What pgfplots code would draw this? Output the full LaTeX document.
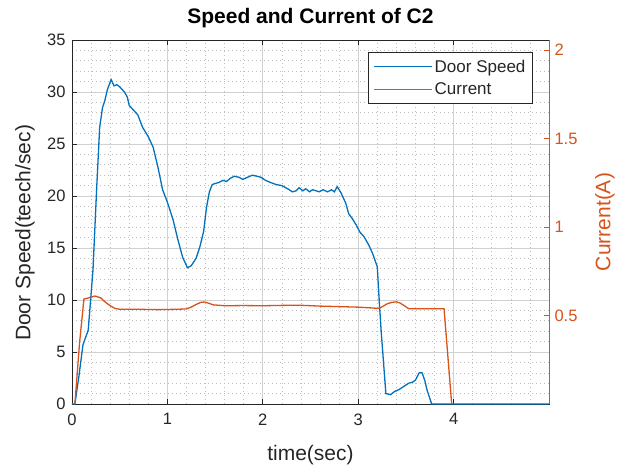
\documentclass[border=0pt]{standalone}
\usepackage{fontspec}
\setmainfont{Liberation Sans}
\usepackage{pgfplots}
\pgfplotsset{compat=1.18}
\definecolor{mblue}{RGB}{0,114,189}
\definecolor{morange}{RGB}{217,83,25}
\definecolor{mtext}{RGB}{38,38,38}
\newcommand{\tickfont}{\fontsize{16.5bp}{19bp}\selectfont}
\newcommand{\legfont}{\fontsize{17bp}{20bp}\selectfont}
\newcommand{\labfont}{\fontsize{21bp}{24bp}\selectfont}
\begin{document}
\begin{tikzpicture}
\useasboundingbox (-72bp,-66bp) rectangle (552bp,404bp);
% left axis: speed
\begin{axis}[
    at={(0,0)}, anchor=south west,
    scale only axis, width=477bp, height=364bp,
    xmin=0, xmax=5, ymin=0, ymax=35,
    xtick={0,1,2,3,4,5}, xticklabels={0,1,2,3,4,},
    ytick={0,5,...,35},
    minor x tick num=4, minor y tick num=4,
    grid=both,
    major grid style={black!18, line width=0.7bp},
    minor grid style={black!26, line width=0.6bp, dash pattern=on 0.6bp off 3.4bp},
    tick align=inside, major tick length=5bp, minor tick length=0pt,
    ytick pos=left, xtick pos=both,
    axis line style={black!85, line width=0.7bp},
    tick style={black!85, line width=0.7bp},
    /pgf/number format/assume math mode=true,
    tick label style={font=\tickfont, text=mtext},
    xticklabel style={yshift=-6bp},
    yticklabel style={xshift=-3bp},
    xlabel={time(sec)},
    xlabel style={at={(axis description cs:0.5,0)}, anchor=center, yshift=-51bp, font=\labfont, text=mtext},
    ylabel={Door Speed(teech/sec)},
    ylabel style={at={(axis description cs:0,0.47)}, anchor=center, yshift=47bp, font=\labfont, text=mtext},
    title={Speed and Current of C2},
    title style={at={(axis description cs:0.5,1)}, anchor=center, yshift=16bp, font=\bfseries\labfont, text=black},
]
\addplot[mblue, line width=1.3bp] coordinates {
(0,0) (0.03,0) (0.07,2.5) (0.115,5.7) (0.17,7.1) (0.22,12.9) (0.26,21) (0.29,26.6)
(0.32,28.5) (0.345,29.2) (0.37,30.2) (0.41,31.2) (0.44,30.6) (0.47,30.7) (0.5,30.5)
(0.55,30.0) (0.58,29.5) (0.6,28.7) (0.65,28.2) (0.69,27.8) (0.74,26.6) (0.8,25.7)
(0.85,24.7) (0.9,22.8) (0.95,20.6) (1.0,19.4) (1.06,17.7) (1.11,15.8) (1.16,14.1)
(1.21,13.1) (1.25,13.3) (1.3,14.0) (1.34,15.1) (1.38,16.6) (1.41,18.9) (1.44,20.4)
(1.47,21.1) (1.5,21.2) (1.54,21.3) (1.58,21.5) (1.62,21.4) (1.66,21.7) (1.7,21.9)
(1.75,21.8) (1.79,21.6) (1.84,21.8) (1.89,22.0) (1.94,21.9) (1.98,21.8) (2.03,21.5)
(2.08,21.3) (2.14,21.1) (2.2,21.0) (2.26,20.7) (2.31,20.4) (2.35,20.5) (2.38,20.8)
(2.42,20.5) (2.45,20.7) (2.49,20.4) (2.52,20.6) (2.56,20.5) (2.59,20.4) (2.63,20.6)
(2.68,20.4) (2.72,20.6) (2.75,20.4) (2.78,20.9) (2.82,20.3) (2.87,19.3) (2.9,18.3)
(2.94,17.8) (2.98,17.2) (3.02,16.5) (3.06,16.1) (3.11,15.3) (3.15,14.5) (3.2,13.2)
(3.22,10) (3.24,7.1) (3.29,1.0) (3.34,0.9) (3.38,1.2) (3.43,1.4) (3.48,1.7)
(3.53,2.0) (3.57,2.1) (3.6,2.3) (3.64,3.0) (3.67,3.0) (3.7,2.2) (3.72,1.4)
(3.77,0) (5,0)
};
\end{axis}
% right axis: current
\begin{axis}[
    at={(0,0)}, anchor=south west,
    scale only axis, width=477bp, height=364bp,
    xmin=0, xmax=5, ymin=0, ymax=2.056,
    axis x line=none, axis y line*=right,
    ytick={0.5,1,1.5,2},
    tick align=inside, major tick length=5bp, minor tick length=0pt,
    y axis line style={-, morange, line width=0.8bp},
    ytick style={morange, line width=0.7bp},
    /pgf/number format/assume math mode=true,
    yticklabel style={font=\tickfont, text=morange, xshift=2bp},
    ylabel={Current(A)},
    ylabel style={at={(axis description cs:1,0.5)}, anchor=center, yshift=-56bp, font=\labfont, text=morange},
    legend style={at={(0.966,0.966)}, anchor=north east, draw=black!85, fill=white,
        font=\legfont, text=mtext, row sep=5bp, inner xsep=5bp, inner ysep=5bp, line width=0.7bp},
    legend cell align=left,
    legend image code/.code={\draw[#1] (0bp,0bp) -- (58bp,0bp);},
]
\addlegendimage{mblue, line width=1.3bp}
\addlegendentry{Door Speed}
\addlegendimage{morange, line width=1.3bp}
\addlegendentry{Current}
\addplot[morange, line width=1.3bp, forget plot] coordinates {
(0,0) (0.03,0) (0.08,0.35) (0.125,0.593) (0.18,0.6) (0.24,0.61) (0.3,0.6)
(0.35,0.575) (0.4,0.555) (0.45,0.54) (0.5,0.535) (0.7,0.535) (0.9,0.533) (1.1,0.535)
(1.2,0.537) (1.26,0.55) (1.3,0.562) (1.35,0.574) (1.39,0.576) (1.44,0.568) (1.48,0.56)
(1.6,0.555) (1.8,0.556) (2.0,0.555) (2.2,0.557) (2.38,0.558) (2.6,0.553) (2.8,0.55)
(3.0,0.547) (3.22,0.54) (3.27,0.555) (3.3,0.565) (3.35,0.574) (3.4,0.577) (3.44,0.57)
(3.47,0.56) (3.53,0.538) (3.7,0.538) (3.9,0.538) (3.98,0)
};
\end{axis}
\end{tikzpicture}
\end{document}
